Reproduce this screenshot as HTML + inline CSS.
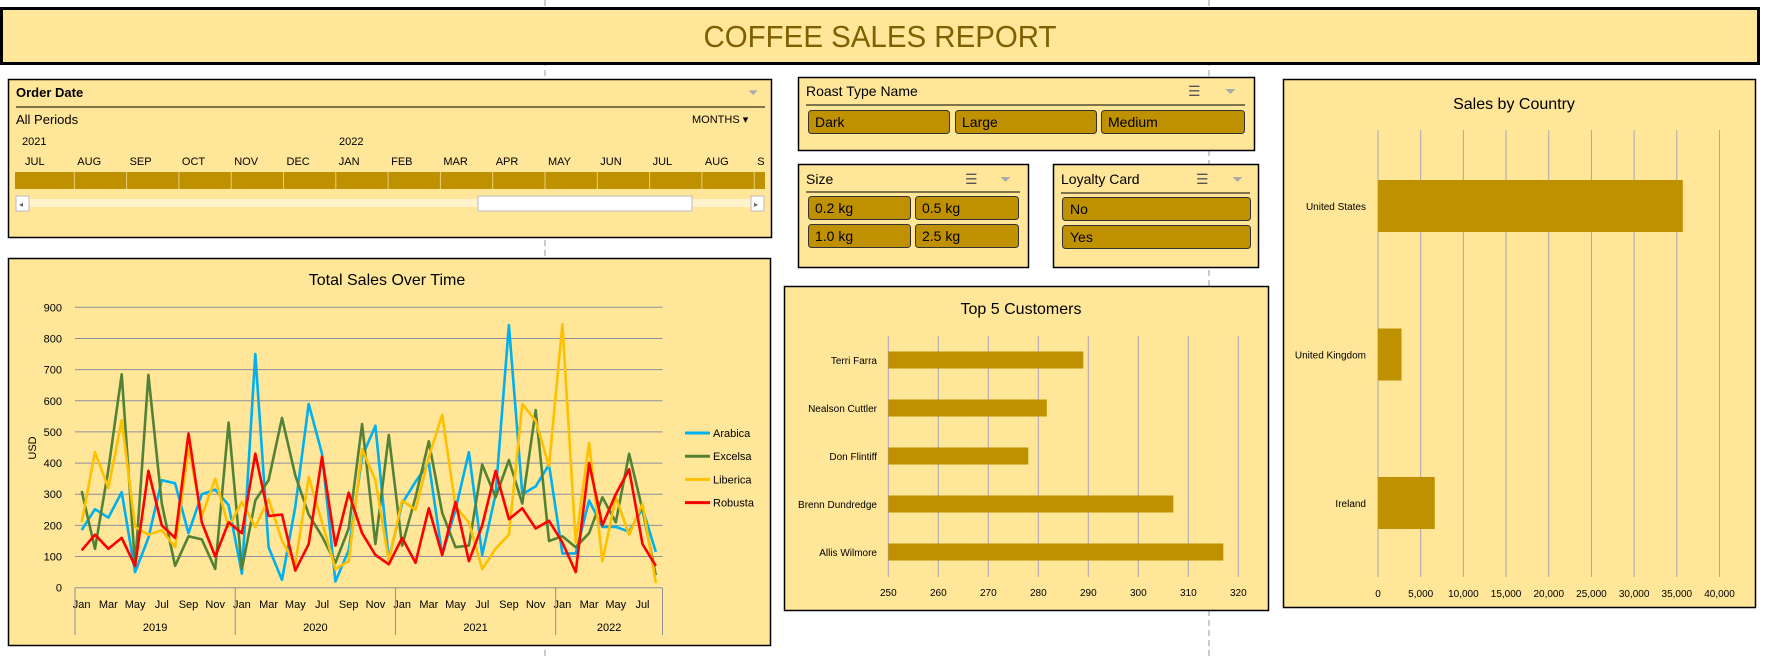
<!DOCTYPE html>
<html><head><meta charset="utf-8"><style>
html,body{margin:0;padding:0;background:#fff;}
svg{display:block;font-family:"Liberation Sans",sans-serif;}
</style></head><body>
<svg id="s" width="1767" height="656" viewBox="0 0 1767 656" xmlns="http://www.w3.org/2000/svg">
<line x1="545" y1="0" x2="545" y2="656" stroke="#999" stroke-dasharray="6,4"/>
<line x1="1209" y1="0" x2="1209" y2="656" stroke="#999" stroke-dasharray="6,4"/>
<g>
<rect x="1.5" y="8.5" width="1757" height="55" fill="#ffe699" stroke="#000" stroke-width="3"/>
<text x="880" y="47" text-anchor="middle" font-size="31" fill="#7f6000" textLength="353" lengthAdjust="spacingAndGlyphs">COFFEE SALES REPORT</text>
</g>
<g>
<rect x="8.5" y="79.5" width="763" height="158" fill="#ffe699" stroke="#000" stroke-width="1.5"/>
<text x="16" y="97" font-size="13" font-weight="bold">Order Date</text>
<text x="748" y="97" font-size="13" fill="#aaa">⏷</text>
<line x1="16" y1="107" x2="765" y2="107" stroke="#000"/>
<text x="16" y="124" font-size="13">All Periods</text>
<text x="692" y="123" font-size="11">MONTHS ▾</text>
<text x="22" y="145" font-size="11">2021</text>
<text x="339" y="145" font-size="11">2022</text>
<g id="tl"></g>
<rect x="16" y="199" width="747" height="8" fill="#fff2cc"/>
<rect x="16" y="196" width="13" height="15" fill="#fff" stroke="#bbb"/>
<text x="19" y="207" font-size="8" fill="#666">◂</text>
<rect x="751" y="196" width="13" height="15" fill="#fff" stroke="#bbb"/>
<text x="754" y="207" font-size="8" fill="#666">▸</text>
<rect x="478" y="196" width="214" height="15" fill="#fff" stroke="#bbb"/>
</g>
<g>
<rect x="798.5" y="77.5" width="456" height="73" fill="#ffe699" stroke="#000" stroke-width="1.5"/>
<text x="806" y="96" font-size="14">Roast Type Name</text>
<text x="1188" y="96" font-size="14" fill="#555">☰</text><text x="1225" y="96" font-size="14" fill="#aaa">⏷</text>
<line x1="806" y1="105" x2="1245" y2="105" stroke="#000"/>
<rect x="808.5" y="110.5" width="141" height="23" rx="3" fill="#bf9000" stroke="#333"/>
<text x="815" y="127" font-size="14">Dark</text>
<rect x="955.5" y="110.5" width="141" height="23" rx="3" fill="#bf9000" stroke="#333"/>
<text x="962" y="127" font-size="14">Large</text>
<rect x="1101.5" y="110.5" width="143" height="23" rx="3" fill="#bf9000" stroke="#333"/>
<text x="1108" y="127" font-size="14">Medium</text>
</g>
<g>
<rect x="798.5" y="164.5" width="230" height="103" fill="#ffe699" stroke="#000" stroke-width="1.5"/>
<text x="806" y="184" font-size="14">Size</text>
<text x="965" y="184" font-size="14" fill="#555">☰</text><text x="1000" y="184" font-size="14" fill="#aaa">⏷</text>
<line x1="806" y1="192" x2="1020" y2="192" stroke="#000"/>
<rect x="808.5" y="196.5" width="102" height="23" rx="3" fill="#bf9000" stroke="#333"/>
<text x="815" y="213" font-size="14">0.2 kg</text>
<rect x="915.5" y="196.5" width="103" height="23" rx="3" fill="#bf9000" stroke="#333"/>
<text x="922" y="213" font-size="14">0.5 kg</text>
<rect x="808.5" y="224.5" width="102" height="23" rx="3" fill="#bf9000" stroke="#333"/>
<text x="815" y="241" font-size="14">1.0 kg</text>
<rect x="915.5" y="224.5" width="103" height="23" rx="3" fill="#bf9000" stroke="#333"/>
<text x="922" y="241" font-size="14">2.5 kg</text>
</g>
<g>
<rect x="1053.5" y="164.5" width="205" height="103" fill="#ffe699" stroke="#000" stroke-width="1.5"/>
<text x="1061" y="184" font-size="14">Loyalty Card</text>
<text x="1196" y="184" font-size="14" fill="#555">☰</text><text x="1232" y="184" font-size="14" fill="#aaa">⏷</text>
<line x1="1061" y1="193" x2="1250" y2="193" stroke="#000"/>
<rect x="1062.5" y="197.5" width="188" height="23" rx="3" fill="#bf9000" stroke="#333"/>
<text x="1070" y="214" font-size="14">No</text>
<rect x="1062.5" y="225.5" width="188" height="23" rx="3" fill="#bf9000" stroke="#333"/>
<text x="1070" y="242" font-size="14">Yes</text>
</g>
<g>
<rect x="8.5" y="258.5" width="762" height="387" fill="#ffe699" stroke="#000" stroke-width="1.5"/>
<text x="387" y="285" text-anchor="middle" font-size="16">Total Sales Over Time</text>
<text transform="translate(36,448) rotate(-90)" text-anchor="middle" font-size="11">USD</text>
<g id="lc"></g>
</g>
<g>
<rect x="784.5" y="286.5" width="484" height="324" fill="#ffe699" stroke="#000" stroke-width="1.5"/>
<text x="1021" y="314" text-anchor="middle" font-size="16">Top 5 Customers</text>
<g id="tc"></g>
</g>
<g>
<rect x="1283.5" y="79.5" width="472" height="528" fill="#ffe699" stroke="#000" stroke-width="1.5"/>
<text x="1514" y="109" text-anchor="middle" font-size="16">Sales by Country</text>
<g id="sc"></g>
</g>
</svg>
<script>
const months=["Jan","Feb","Mar","Apr","May","Jun","Jul","Aug","Sep","Oct","Nov","Dec","Jan","Feb","Mar","Apr","May","Jun","Jul","Aug","Sep","Oct","Nov","Dec","Jan","Feb","Mar","Apr","May","Jun","Jul","Aug","Sep","Oct","Nov","Dec","Jan","Feb","Mar","Apr","May","Jun","Jul","Aug"];
const years=["2019","2020","2021","2022"];
const arabica=[185,252,225,307,50,160,345,335,175,300,315,265,45,750,130,25,260,590,430,20,120,420,520,90,270,340,400,105,250,435,105,300,843,300,325,395,110,110,280,195,195,180,255,115];
const excelsa=[310,125,380,685,70,683,270,70,165,155,60,530,60,280,345,545,360,235,165,80,190,525,140,490,135,290,470,240,130,135,395,290,410,270,570,150,165,130,175,290,210,430,250,40];
const liberica=[210,435,320,538,195,170,185,130,450,230,350,195,275,195,285,150,75,355,210,60,85,445,345,85,280,250,420,555,260,210,60,125,170,590,535,390,845,145,465,85,290,170,270,15];
const robusta=[120,170,125,160,70,375,200,160,495,210,100,210,175,430,230,235,55,140,420,135,305,175,105,75,160,80,255,105,275,85,200,375,220,255,190,215,145,50,400,200,300,380,140,70];
const seriesNames=["Arabica","Excelsa","Liberica","Robusta"];
const yTicks=[0,100,200,300,400,500,600,700,800,900];
const customers=["Terri Farra","Nealson Cuttler","Don Flintiff","Brenn Dundredge","Allis Wilmore"];
const customerSales=[289,281.7,278,307,317];
const custTicks=[250,260,270,280,290,300,310,320];
const countries=["United States","United Kingdom","Ireland"];
const countrySales=[35700,2750,6650];
const countryTicks=[0,5000,10000,15000,20000,25000,30000,35000,40000];
const timelineMonths=["JUL","AUG","SEP","OCT","NOV","DEC","JAN","FEB","MAR","APR","MAY","JUN","JUL","AUG","S"];

const NS="http://www.w3.org/2000/svg";
function mk(p,tag,a,txt){const e=document.createElementNS(NS,tag);for(const k in a)e.setAttribute(k,a[k]);if(txt!==undefined)e.textContent=txt;p.appendChild(e);return e;}

const tl=document.getElementById('tl');
mk(tl,'rect',{x:15,y:172,width:750,height:17,fill:'#bf9000'});
timelineMonths.forEach((m,i)=>{const x=25+i*52.3;
 const t=mk(tl,'text',{x:x,y:165,'font-size':11},m);
 
 
 if(i>0){mk(tl,'line',{x1:x-3,y1:172,x2:x-3,y2:189,stroke:'#e8cf7a'});}
});

const lc=document.getElementById('lc');
const X0=75,X1=662.5,Y0=587.7,Y9=307.3;
const step=(X1-X0)/months.length;
const xS=i=>X0+step*(i+0.5);
const yS=v=>Y0-(v/900)*(Y0-Y9);
yTicks.forEach(v=>{
 const g=mk(lc,'line',{x1:X0,x2:X1,y1:yS(v),y2:yS(v),stroke:'#8e8e9e','stroke-width':1});
 
 
 const t=mk(lc,'text',{x:62,y:yS(v)+4,'text-anchor':'end','font-size':11},v);
 
 
});
months.forEach((m,i)=>{if(i%2===0){
 const t=mk(lc,'text',{x:xS(i),y:608,'text-anchor':'middle','font-size':11},m);
 
 }});
const yearLens=[12,12,12,8];let acc=0;
mk(lc,'line',{x1:X0,x2:X0,y1:Y0,y2:635,stroke:'#8e8e9e'});
years.forEach((y,k)=>{const s=acc;acc+=yearLens[k];
 const xa=X0+step*s,xb=X0+step*acc;
 mk(lc,'line',{x1:xb,x2:xb,y1:Y0,y2:635,stroke:'#8e8e9e'});
 const t=mk(lc,'text',{x:(xa+xb)/2,y:631,'text-anchor':'middle','font-size':11},y);
 
 
});
const sData=[arabica,excelsa,liberica,robusta];
const colors=['#00b0f0','#548235','#ffc000','#ff0000'];
[0,1,2,3].forEach(k=>{
 const d=sData[k].map((v,i)=>(i?'L':'M')+xS(i).toFixed(1)+','+yS(v).toFixed(1)).join('');
 const p=mk(lc,'path',{d:d,fill:'none',stroke:colors[k],'stroke-width':2.6,'stroke-linejoin':'round'});
 
 
});
seriesNames.forEach((n,k)=>{const y=433+k*23.2;
 const g=mk(lc,'g',{});
 
 
 mk(g,'line',{x1:685,x2:710,y1:y,y2:y,stroke:colors[k],'stroke-width':3});
 mk(g,'text',{x:713,y:y+4,'font-size':11},n);
});

const tc=document.getElementById('tc');
const cx=v=>888.3+(v-250)*5;
custTicks.forEach(v=>{
 const l=mk(tc,'line',{x1:cx(v),x2:cx(v),y1:336,y2:577,stroke:'#a6a6b8'});
 
 
 const t=mk(tc,'text',{x:cx(v),y:596,'text-anchor':'middle','font-size':10},v);
 
 
});
customers.forEach((c,i)=>{const yc=360+i*48;
 const r=mk(tc,'rect',{x:cx(250),y:yc-8.5,width:cx(customerSales[i])-cx(250),height:17,fill:'#bf9000'});
 
 
 const t=mk(tc,'text',{x:877,y:yc+4,'text-anchor':'end','font-size':10},c);
 
 
});

const sc=document.getElementById('sc');
const sx=v=>1378+v/40000*341.5;
countryTicks.forEach(v=>{
 const l=mk(sc,'line',{x1:sx(v),x2:sx(v),y1:130,y2:577,stroke:'#a6a6b8'});
 
 
 const t=mk(sc,'text',{x:sx(v),y:597,'text-anchor':'middle','font-size':10},v.toLocaleString('en-US'));
 
 
});
countries.forEach((c,i)=>{const yc=206+i*148.5;
 const r=mk(sc,'rect',{x:sx(0),y:yc-26,width:sx(countrySales[i])-sx(0),height:52,fill:'#bf9000'});
 
 
 const t=mk(sc,'text',{x:1366,y:yc+4,'text-anchor':'end','font-size':10},c);
 
 
});
</script>
</body></html>
